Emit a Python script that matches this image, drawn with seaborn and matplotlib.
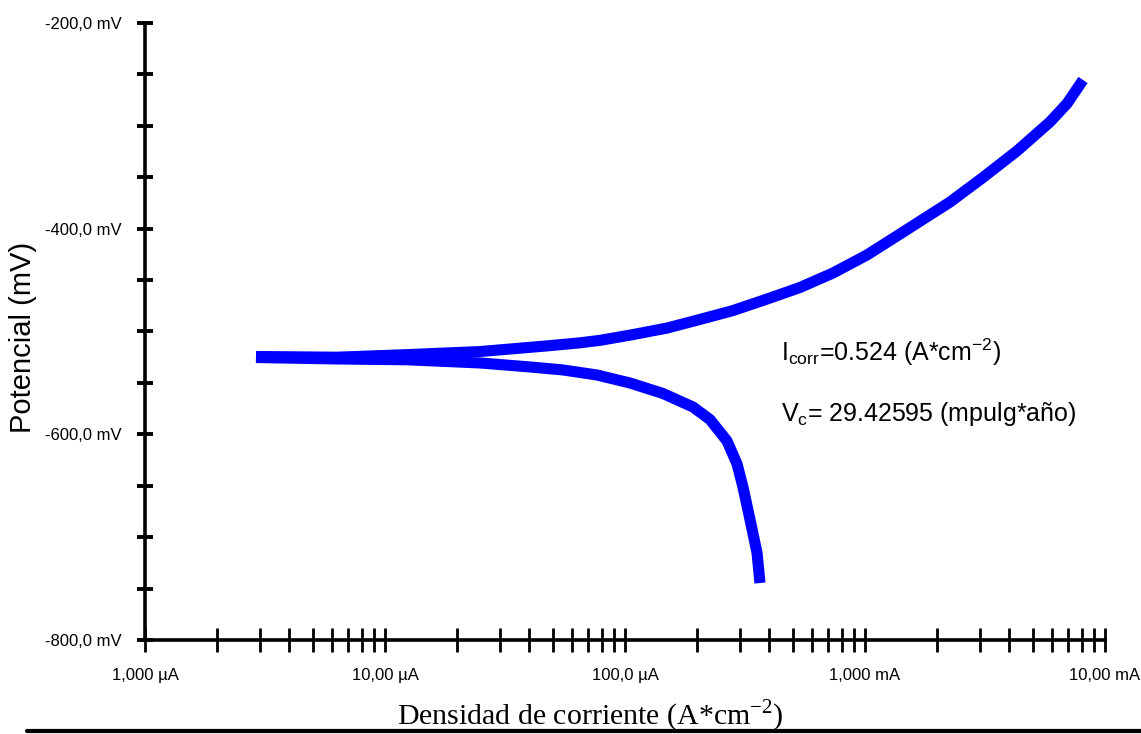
import numpy as np
import pandas as pd
import matplotlib
matplotlib.use("Agg")
import matplotlib.pyplot as plt
from matplotlib.ticker import FixedLocator, NullFormatter, FixedFormatter
from matplotlib.lines import Line2D
import seaborn as sns

# ---- data (current density in µA, potential in mV) ----
anodic_current_uA = [2.90, 6.31, 12.35, 24.9, 34.1, 47.3, 64.9, 78.7, 108, 150, 205,
                     282, 391, 536, 736, 1019, 1399, 2261, 3102, 4300, 5898,
                     6950, 8100]
anodic_potential_mV = [-524.3, -525.0, -522.5, -519.5, -516.8, -514.0, -511.0, -508.6,
                       -503.0, -496.6, -488.3, -479.6, -468.4, -457.2, -443.1, -425.6,
                       -405.2, -374.1, -350.2, -324.4, -296.2, -278.3, -255.4]

cathodic_current_uA = [2.90, 6.31, 12.35, 24.9, 40.2, 55.2, 76.4, 105, 144, 192, 226,
                       266, 293, 310, 332, 355, 365]
cathodic_potential_mV = [-525.3, -526.7, -527.5, -530.6, -534.5, -537.4, -542.3, -550.1,
                         -560.3, -573.4, -585.6, -606.4, -628.8, -651.1, -683.2, -715.3,
                         -744.6]

x_major_ticks = [1, 10, 100, 1000, 10000]
x_tick_labels = ["1,000 µA", "10,00 µA", "100,0 µA", "1,000 mA", "10,00 mA"]
y_major_ticks = [-800, -600, -400, -200]
y_tick_labels = ["-800,0 mV", "-600,0 mV", "-400,0 mV", "-200,0 mV"]

icorr_text = r"I$_{\mathregular{corr}}$=0.524 (A*cm$^{\mathregular{-2}}$)"
vc_text = r"V$_{\mathregular{c}}$= 29.42595 (mpulg*año)"

# ---- style ----
sns.set_theme(style="white")
plt.rcParams["font.family"] = ["Liberation Sans", "DejaVu Sans"]
plt.rcParams["axes.unicode_minus"] = False

fig, ax = plt.subplots(figsize=(11.41, 7.34), dpi=100)
fig.subplots_adjust(left=145 / 1141, right=1105 / 1141, bottom=1 - 640 / 734, top=1 - 23 / 734)

blue = "#0000FF"
anodic = pd.DataFrame({"I": anodic_current_uA, "E": anodic_potential_mV})
cathodic = pd.DataFrame({"I": cathodic_current_uA, "E": cathodic_potential_mV})
sns.lineplot(data=anodic, x="I", y="E", ax=ax, color=blue, lw=8.0, sort=False,
             estimator=None, solid_capstyle="butt", solid_joinstyle="round")
sns.lineplot(data=cathodic, x="I", y="E", ax=ax, color=blue, lw=8.0, sort=False,
             estimator=None, solid_capstyle="butt", solid_joinstyle="round")

ax.set_xscale("log")
ax.set_xlim(1, 10000)
ax.set_ylim(-800, -200)

# spines
for s in ["top", "right"]:
    ax.spines[s].set_visible(False)
for s in ["left", "bottom"]:
    ax.spines[s].set_linewidth(2.6)
    ax.spines[s].set_color("black")

# x ticks
minor_x = [m * 10 ** d for d in range(0, 4) for m in range(2, 10)]
ax.xaxis.set_major_locator(FixedLocator(x_major_ticks))
ax.xaxis.set_major_formatter(FixedFormatter(x_tick_labels))
ax.xaxis.set_minor_locator(FixedLocator(minor_x))
ax.xaxis.set_minor_formatter(NullFormatter())
ax.tick_params(axis="x", which="both", direction="inout", length=17, width=2.0,
               color="black", pad=12)

# y ticks
ax.yaxis.set_major_locator(FixedLocator(y_major_ticks))
ax.yaxis.set_major_formatter(FixedFormatter(y_tick_labels))
ax.yaxis.set_minor_locator(FixedLocator([-750, -700, -650, -550, -500, -450, -350, -300, -250]))
ax.tick_params(axis="y", which="both", direction="inout", length=12, width=2.8,
               color="black", pad=11)
ax.tick_params(which="both", left=True, bottom=True)

for lab in ax.get_xticklabels() + ax.get_yticklabels():
    lab.set_family(["Liberation Sans", "DejaVu Sans"])
    lab.set_fontsize(12)
    lab.set_color("black")

ax.set_xlabel("")
ax.set_ylabel("Potencial (mV)", fontsize=21, color="black",
              family=["Liberation Sans", "DejaVu Sans"])
ax.yaxis.set_label_coords(-0.1125, 0.49)

fig.text(590 / 1141, 1 - 716 / 734, r"Densidad de corriente (A*cm$^{\mathregular{-2}}$)",
         ha="center", va="center", fontsize=21.5, color="black",
         family=["Liberation Serif", "DejaVu Serif"])

ax.text(0.663, 0.467, icorr_text, transform=ax.transAxes, fontsize=18,
        ha="left", va="center", color="black")
ax.text(0.663, 0.366, vc_text, transform=ax.transAxes, fontsize=18,
        ha="left", va="center", color="black")

# bottom rule
fig.add_artist(Line2D([27 / 1141, 1.0], [1 - 731 / 734, 1 - 731 / 734],
                      transform=fig.transFigure, color="black", lw=3.0))

fig.savefig("out.png", dpi=100)
